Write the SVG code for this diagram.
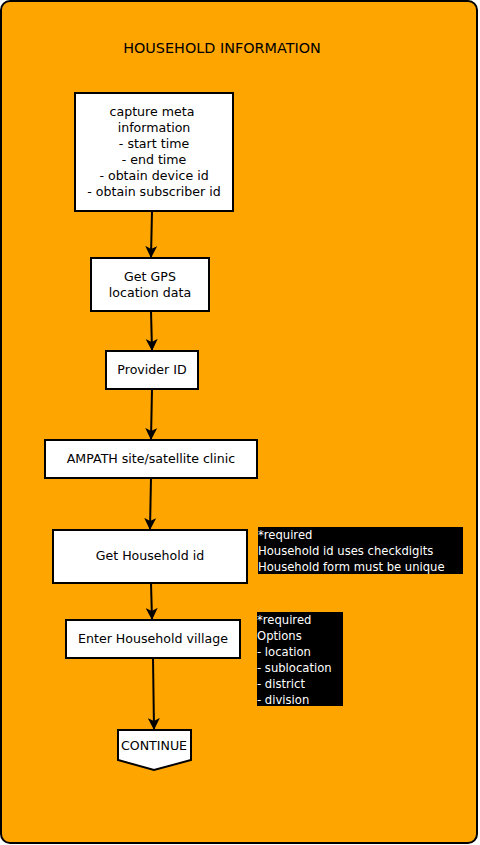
<svg xmlns="http://www.w3.org/2000/svg" width="480" height="845" viewBox="0 0 480 845">
<defs>
<style>
.node rect, .node path{fill:#fff;stroke:#000;stroke-width:2}
.t{font-family:"DejaVu Sans",sans-serif;font-size:12.6px;fill:#000;text-anchor:middle}
.n{font-family:"DejaVu Sans",sans-serif;font-size:11.6px;fill:#fff}
.c line{stroke:#000;stroke-width:2;marker-end:url(#ah)}
</style>
<marker id="ah" markerWidth="12" markerHeight="12" viewBox="0 0 12 12" refX="11" refY="6" orient="auto" markerUnits="userSpaceOnUse">
<path d="M0,0 L12,6 L0,12 L3,6 Z" fill="#000"/>
</marker>
</defs>
<rect x="1" y="1" width="476" height="842" rx="9" fill="#FFA500" stroke="#000" stroke-width="2"/>
<text x="222" y="53" font-family="DejaVu Sans,sans-serif" font-size="14.4" text-anchor="middle">HOUSEHOLD INFORMATION</text>
<g class="c">
<line x1="152" y1="211" x2="151" y2="257"/>
<line x1="151" y1="311" x2="152" y2="350"/>
<line x1="152" y1="389" x2="151" y2="439"/>
<line x1="151" y1="478" x2="150" y2="529"/>
<line x1="151" y1="583" x2="152" y2="619"/>
<line x1="153" y1="658" x2="154" y2="729"/>
</g>
<g id="meta" class="node">
<rect x="75" y="93" width="158" height="118"/>
<text class="t"><tspan x="152" y="116">capture meta</tspan><tspan x="154" y="132">information</tspan><tspan x="154" y="148">- start time</tspan><tspan x="154" y="164">- end time</tspan><tspan x="154" y="180">- obtain device id</tspan><tspan x="154" y="196">- obtain subscriber id</tspan></text>
</g>
<g id="gps" class="node">
<rect x="91" y="258" width="118" height="53"/>
<text class="t"><tspan x="150" y="281">Get GPS</tspan><tspan x="150" y="297">location data</tspan></text>
</g>
<g id="provider" class="node">
<rect x="106" y="351" width="92" height="38"/>
<text class="t" x="152" y="374">Provider ID</text>
</g>
<g id="site" class="node">
<rect x="45" y="440" width="212" height="38"/>
<text class="t" x="151" y="463">AMPATH site/satellite clinic</text>
</g>
<g id="hhid" class="node">
<rect x="53" y="530" width="194" height="53"/>
<text class="t" x="150" y="560">Get Household id</text>
</g>
<g id="village" class="node">
<rect x="66" y="620" width="174" height="38"/>
<text class="t" x="153" y="643">Enter Household village</text>
</g>
<g id="continue" class="node">
<path d="M118,730 L191,730 L191,760 L154,770 L118,760 Z"/>
<text class="t" x="154" y="750">CONTINUE</text>
</g>
<g id="note1">
<rect x="258" y="527" width="205" height="47" fill="#000"/>
<text class="n"><tspan x="258" y="539">*required</tspan><tspan x="258" y="555">Household id uses checkdigits</tspan><tspan x="258" y="571">Household form must be unique</tspan></text>
</g>
<g id="note2">
<rect x="257" y="612" width="86" height="94" fill="#000"/>
<text class="n"><tspan x="257" y="624">*required</tspan><tspan x="257" y="640">Options</tspan><tspan x="257" y="656">- location</tspan><tspan x="257" y="672">- sublocation</tspan><tspan x="257" y="688">- district</tspan><tspan x="257" y="704">- division</tspan></text>
</g>
</svg>
